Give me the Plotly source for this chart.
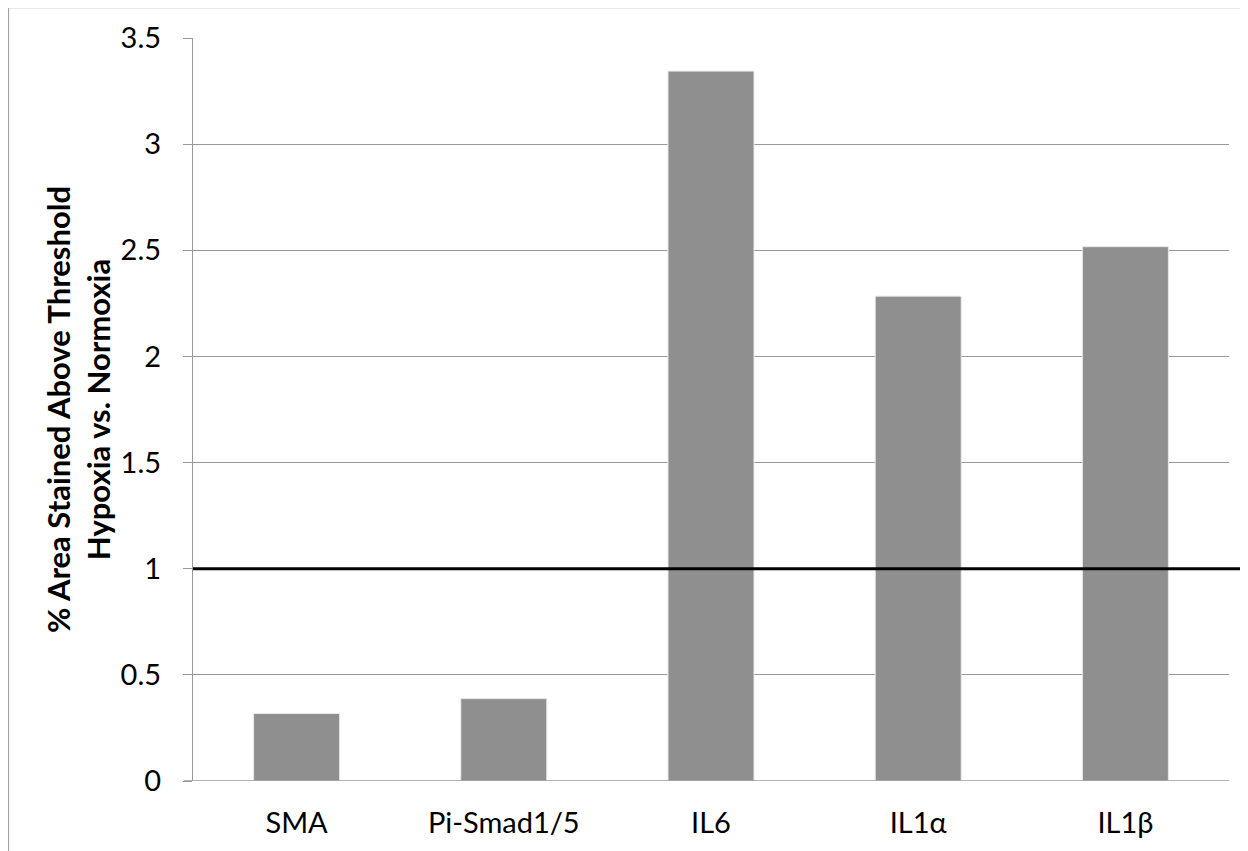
import plotly.graph_objects as go

categories = ["SMA", "Pi-Smad1/5", "IL6", "IL1α", "IL1β"]
values = [0.318, 0.388, 3.344, 2.284, 2.517]
y_ticks = [0, 0.5, 1, 1.5, 2, 2.5, 3, 3.5]
y_tick_labels = ["0", "0.5", "1", "1.5", "2", "2.5", "3", "3.5"]
reference_level = 1
y_title = "% Area Stained Above Threshold<br>Hypoxia vs. Normoxia"

# page body has an 8px margin; figure coordinates = page coordinates - 8
OFF = 8
W, H = 1248 - OFF, 851 - OFF
L = 193 - OFF
T = 38 - OFF
R = W - (1229 - OFF)
B = H - (781 - OFF)
pw = W - L - R
ph = H - T - B

font_family = "Lato, 'Open Sans', sans-serif"
grid_col = "#9a9a9a"

fig = go.Figure()
fig.add_trace(go.Bar(
    x=categories, y=values,
    marker=dict(color="#8f8f8f", line=dict(color="#e8e8e8", width=1)),
    hoverinfo="x+y",
))

fig.update_layout(
    width=W, height=H,
    margin=dict(l=L, r=R, t=T, b=B, pad=0),
    paper_bgcolor="white", plot_bgcolor="white",
    bargap=0.585,
    showlegend=False,
    font=dict(family=font_family, size=29, color="#000000"),
    xaxis=dict(
        showgrid=False, showline=False, ticks="",
        tickfont=dict(size=29), ticklabelstandoff=22,
        zeroline=False,
    ),
    yaxis=dict(
        range=[0, 3.5], tickvals=y_ticks, ticktext=y_tick_labels,
        showgrid=True, gridcolor=grid_col, gridwidth=1.3,
        showline=True, linecolor=grid_col, linewidth=1.3,
        ticks="outside", ticklen=9, tickcolor=grid_col, tickwidth=1.3,
        tickfont=dict(size=29), ticklabelstandoff=16,
        zeroline=False,
    ),
)

# x axis baseline, extending through the 0 tick mark
fig.add_shape(type="line", xref="paper", yref="y",
              x0=-9 / pw, x1=1, y0=0, y1=0,
              line=dict(color=grid_col, width=1.3), layer="above")

# reference line at 1
fig.add_shape(type="line", xref="paper", yref="y",
              x0=0, x1=(W + 5 - L) / pw, y0=reference_level, y1=reference_level,
              line=dict(color="#000000", width=3), layer="above")

# outer chart border (cut off at right and bottom)
fig.add_shape(type="rect", xref="paper", yref="paper",
              x0=(8.5 - OFF - L) / pw, x1=(W + 20 - L) / pw,
              y0=-(B + 20) / ph, y1=(H - B - (7.5 - OFF)) / ph,
              line=dict(color="#a6a6a6", width=1.3), fillcolor="rgba(0,0,0,0)",
              layer="below")

fig.add_annotation(
    text=y_title, xref="paper", yref="paper",
    x=(77.5 - OFF - L) / pw, y=0.5, xanchor="center", yanchor="middle",
    textangle=-90, showarrow=False,
    font=dict(family=font_family, size=31, color="#000000", weight="bold"),
)

fig.write_html("out.html")
